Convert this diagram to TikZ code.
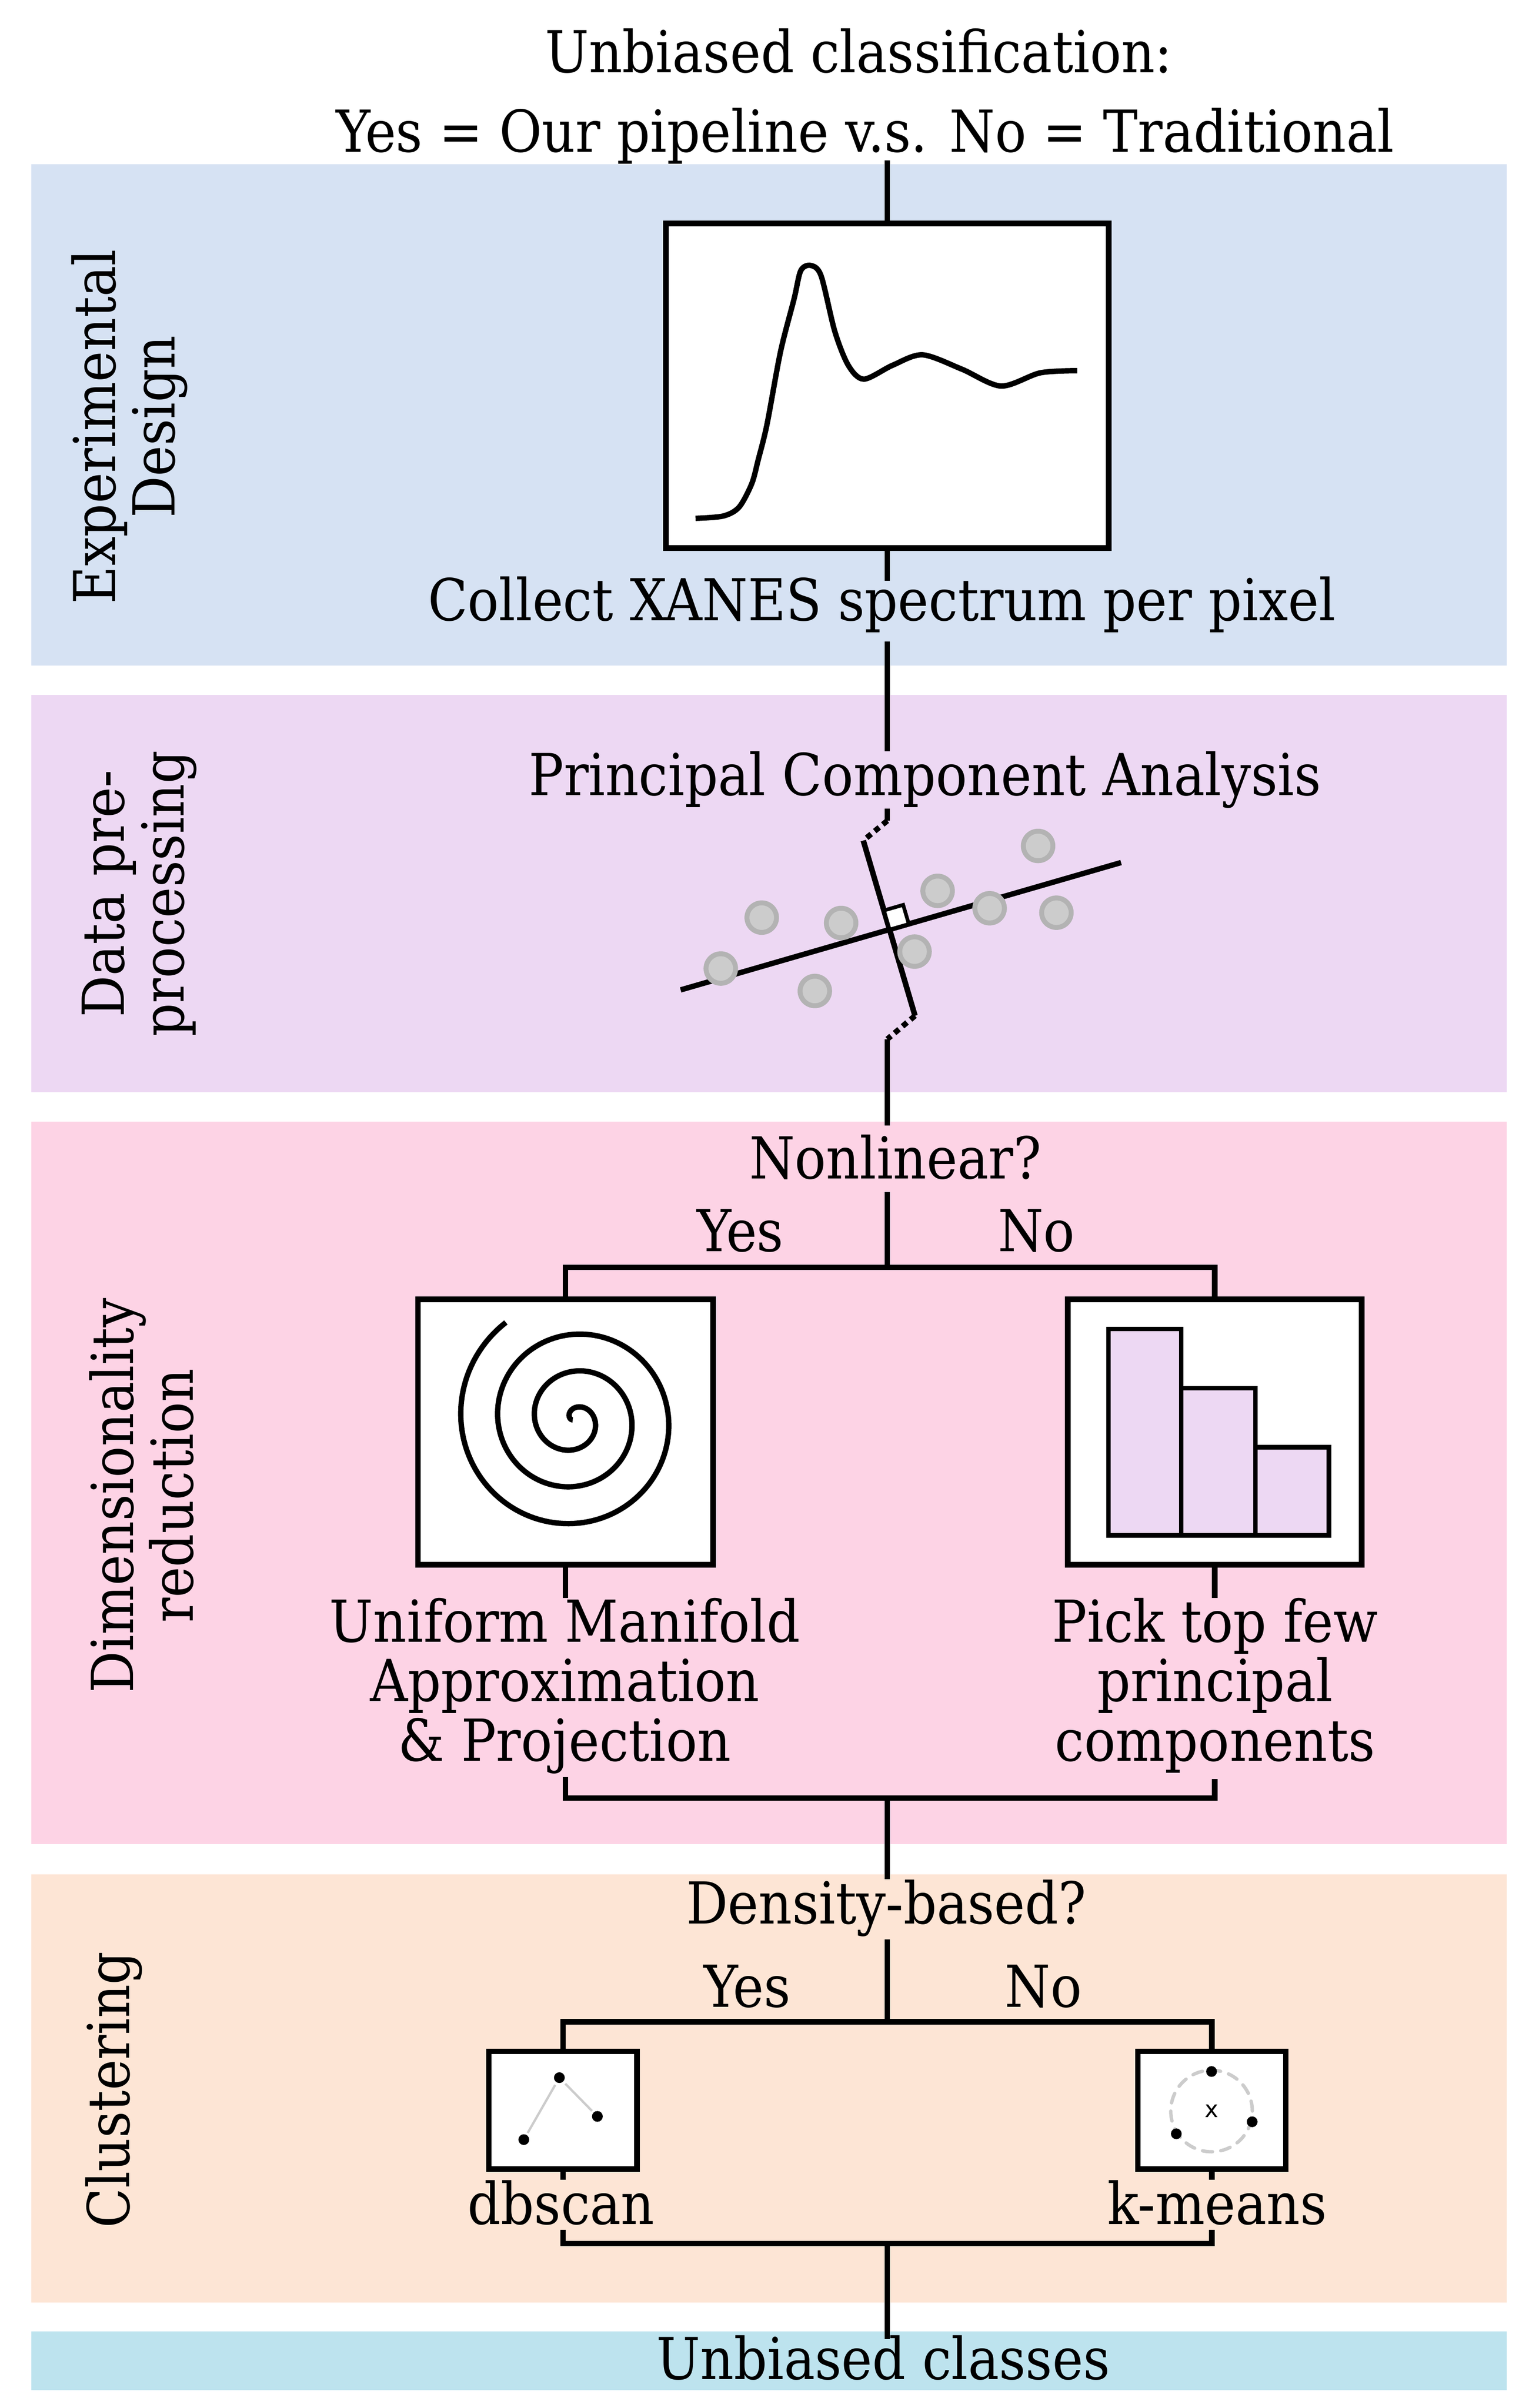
\documentclass[tikz,border=0pt]{standalone}
\usepackage{fontspec}
\setmainfont{DejaVu Serif Condensed}
\newfontfamily\xsans{DejaVu Sans}
\usetikzlibrary{calc}
\definecolor{bandblue}{RGB}{214,226,243}
\definecolor{bandpurple}{RGB}{237,216,243}
\definecolor{bandpink}{RGB}{253,211,229}
\definecolor{bandpeach}{RGB}{253,229,213}
\definecolor{bandcyan}{RGB}{189,227,238}
\definecolor{dotfill}{RGB}{204,204,204}
\definecolor{dotline}{RGB}{179,179,179}
\begin{document}
\begin{tikzpicture}[x=1pt,y=-1pt,
  lbl/.style={font=\fontsize{37.6}{38.6}\selectfont, inner sep=0pt, anchor=base},
  mlbl/.style={font=\fontsize{37.6}{38.6}\selectfont, inner sep=0pt, align=center, anchor=north},
  rlbl/.style={lbl, rotate=90},
  conn/.style={line width=3.6pt},
  dashconn/.style={line width=3.6pt, dash pattern=on 3.8pt off 3pt},
  frame/.style={draw, line width=3.7pt, fill=white, inner sep=0pt},
  smallframe/.style={draw, line width=3.5pt, fill=white, inner sep=0pt},
  icon/.style={line width=3.5pt},
  bar/.style={draw=black, fill=bandpurple, line width=3pt},
  pcdot/.style={draw=dotline, fill=dotfill, line width=3.2pt},
  blackdot/.style={fill=black},
  link/.style={draw=dotfill, line width=1.5pt, shorten <=5.5pt, shorten >=5pt},
  ring/.style={draw=dotfill, line width=2.2pt, line cap=round, dash pattern=on 6.5pt off 5.4pt}
]
\useasboundingbox (0,0) rectangle (1000,1565.6);
\fill[white] (0,0) rectangle (1000,1565.6);

% bands
\fill[bandblue]   (20.4,106.7)  rectangle (979,432.7);
\fill[bandpurple] (20.4,451.8)  rectangle (979,710.1);
\fill[bandpink]   (20.4,729.4)  rectangle (979,1199);
\fill[bandpeach]  (20.4,1218.7) rectangle (979,1497);
\fill[bandcyan]   (20.4,1515.7) rectangle (979,1554);

% band labels
\node[rlbl] (lab1a) at (75,277.5) {Experimental};
\node[rlbl] (lab1b) at (113.5,277.5) {Design};
\node[rlbl] (lab2a) at (80.5,581) {Data pre-};
\node[rlbl] (lab2b) at (119.5,581) {processing};
\node[rlbl] (lab3a) at (86.5,972.5) {Dimensionality};
\node[rlbl] (lab3b) at (125.4,972.5) {reduction};
\node[rlbl] (lab4) at (84,1358.7) {Clustering};

% title
\node[lbl] (title1) at (558,47) {Unbiased classification:};
\node[lbl] (title2) at (562,98.7) {Yes = Our pipeline v.s. No = Traditional};

% experimental design
\node[frame, minimum width=287.7pt, minimum height=211pt] (xanes) at (576.65,250.7) {};
\draw[icon] plot[smooth, tension=0.5] coordinates {(452,337) (470,335.5) (480.3,329.7) (488.5,314.5) (492.7,299) (498.4,276) (507.2,228.7) (516,194.4) (520.4,175.9) (526.9,172.6) (533.6,179.4) (542.5,215.5) (551.3,237.6) (561.4,246.5) (580,237.5) (599.5,230.7) (625,240) (650.5,251) (676,242.4) (700,241)};
\node[lbl] (collect) at (573,403.5) {Collect XANES spectrum per pixel};
\draw[conn, shorten <=-2.3pt] (title2.south -| xanes.north) -- (xanes.north);
\draw[conn, shorten >=-2.9pt] (xanes.south) -- (xanes.south |- collect.north);

% data pre-processing
\node[lbl] (pcatitle) at (601,517.1) {Principal Component Analysis};
\draw[conn, shorten <=5.6pt] (collect.south -| xanes.south) -- (pcatitle.north -| xanes.south);
\coordinate (pa) at (576.6,533.6);
\coordinate (pb) at (561,546.5);
\coordinate (pc) at (594.6,660.4);
\coordinate (pd) at (576.6,675.6);
\coordinate (pone) at (442.3,643.6);
\coordinate (ptwo) at (728.5,560.8);
\draw[conn] (pcatitle.south -| pa) -- (pa);
\draw[dashconn] (pa) -- (pb);
\draw[conn] (pb) -- (pc);
\draw[dashconn] (pc) -- (pd);
\draw[icon] (pone) -- (ptwo);
\draw[line width=2.4pt, fill=white] (578.1,604.4) -- (574.42,591.93) -- (586.91,588.32) -- (590.59,600.79) -- cycle;
\foreach \px/\py in {674.6/550.0, 495/596.6, 546.6/600.1, 609.3/579.2, 643.1/590.5, 686.5/593.4, 468.4/629.7, 594.3/618.7, 529.5/644.3}
  \draw[pcdot] (\px,\py) circle (9.6pt);

% dimensionality reduction
\node[lbl] (nonlin) at (581.8,766.5) {Nonlinear?};
\draw[conn, shorten >=5.9pt] (pd) -- (nonlin.north -| pd);
\node[lbl] (yesA) at (481,813.5) {Yes};
\node[lbl] (noA) at (673.5,813.5) {No};
\coordinate (jA) at (576.6,823.9);
\draw[conn, shorten <=7.8pt] (nonlin.south -| jA) -- (jA);
\node[frame, minimum width=191.8pt, minimum height=172.4pt] (umapbox) at (367.5,931) {};
\node[frame, minimum width=191pt, minimum height=172.4pt] (pcbox) at (789.3,931) {};
\draw[conn] (umapbox.north) |- (jA) -| (pcbox.north);
\draw[icon] plot[domain=-100:1045, samples=420, variable=\s] ({373+(7.5+\s/15)*cos(90-\s)}, {923-(7.5+\s/15)*sin(90-\s)});
\draw[bar] (720.3,998.3) rectangle (767.6,864.1);
\draw[bar] (767.6,998.3) rectangle (815.8,902.6);
\draw[bar] (815.8,998.3) rectangle (863.5,940.9);
\node[mlbl] (umaptext) at (367,1038.8) {Uniform Manifold\\Approximation\\\& Projection};
\node[mlbl] (pctext) at (789.6,1038.8) {Pick top few\\principal\\components};
\draw[conn] (umapbox.south) -- (umapbox.south |- umaptext.north);
\draw[conn] (pcbox.south) -- (pcbox.south |- pctext.north);
\coordinate (jB) at (576.6,1169);
\draw[conn, shorten <=2pt, shorten >=4pt] (umapbox.south |- umaptext.south) |- (jB) -| (pcbox.south |- pctext.south);

% clustering
\node[lbl] (density) at (576,1250.6) {Density-based?};
\draw[conn] (jB) -- (density.north -| jB);
\node[lbl] (yesB) at (485.6,1305) {Yes};
\node[lbl] (noB) at (678,1305) {No};
\coordinate (jC) at (576.6,1314.5);
\draw[conn, shorten <=1.9pt] (density.south -| jC) -- (jC);
\node[smallframe, minimum width=96.2pt, minimum height=76.5pt] (dbbox) at (365.85,1372) {};
\node[smallframe, minimum width=96pt, minimum height=76.5pt] (kmbox) at (787.55,1372) {};
\draw[conn] (dbbox.north) |- (jC) -| (kmbox.north);
% dbscan icon
\coordinate (dA) at (363.5,1350.8);
\coordinate (dB) at (388.2,1376);
\coordinate (dC) at (340.4,1391.1);
\draw[link] (dA) -- (dB);
\draw[link] (dA) -- (dC);
\foreach \d in {dA,dB,dC} \fill[blackdot] (\d) circle (3.5pt);
% k-means icon
\draw[ring] (787.3,1372.5) circle (26.5pt);
\node[font=\xsans\fontsize{15}{15}\selectfont, inner sep=0pt] (kmx) at (787.5,1372.4) {x};
\foreach \kx/\ky in {787.3/1346.8, 813.7/1379.5, 764.4/1387.3}
  \fill[blackdot] (\kx,\ky) circle (3.5pt);
\node[lbl] (dbtext) at (364.6,1446) {dbscan};
\node[lbl] (kmtext) at (790.9,1446) {k-means};
\draw[conn] (dbbox.south) -- (dbbox.south |- dbtext.north);
\draw[conn] (kmbox.south) -- (kmbox.south |- kmtext.north);
\coordinate (jD) at (576.6,1458.7);
\draw[conn, shorten <=3pt, shorten >=3pt] (dbbox.south |- dbtext.south) |- (jD) -| (kmbox.south |- kmtext.south);

% result
\node[lbl] (classes) at (574,1547) {Unbiased classes};
\draw[conn, shorten >=-2.6pt] (jD) -- (classes.north -| jD);
\end{tikzpicture}
\end{document}
